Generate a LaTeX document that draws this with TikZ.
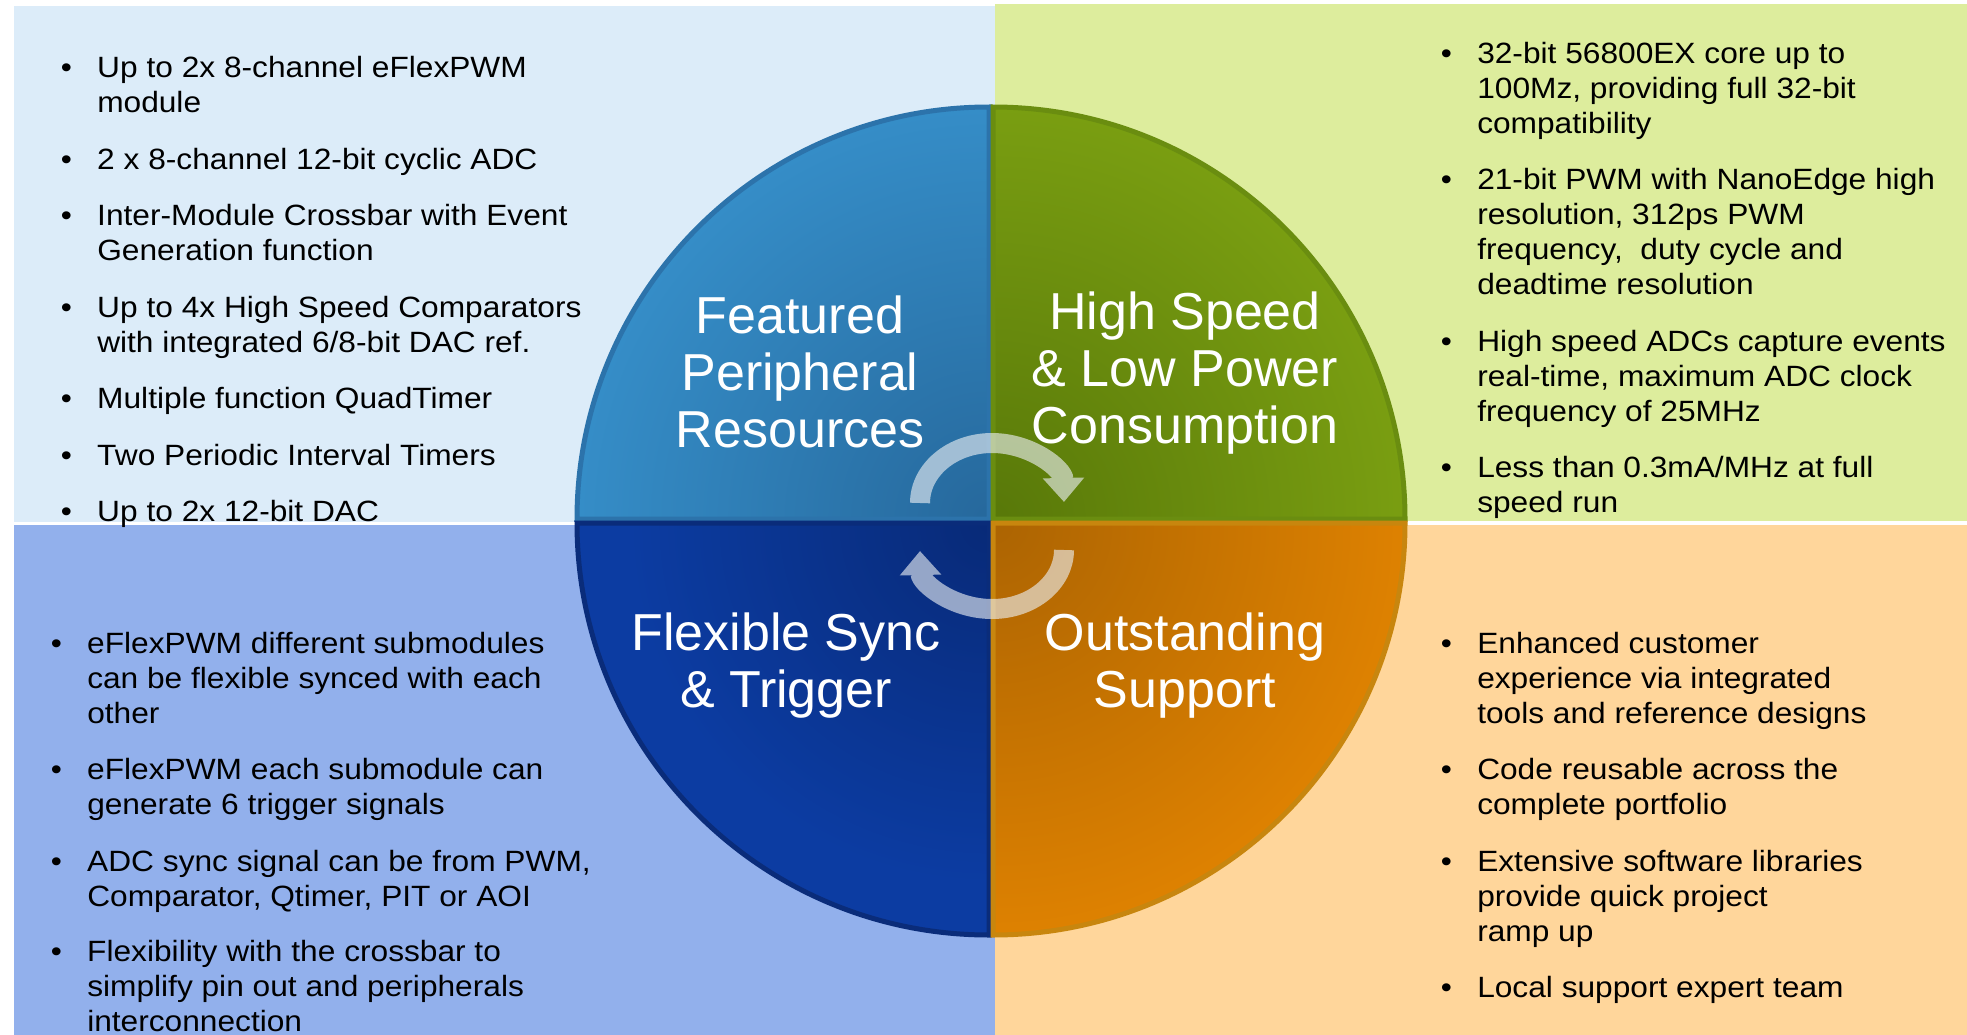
\documentclass[tikz,border=0pt]{standalone}
\usepackage{fontspec}
\setmainfont{Liberation Sans}
\newfontfamily\featfont[FakeStretch=1.08]{Liberation Sans}
\usetikzlibrary{positioning,calc,arrows.meta}
\definecolor{featbg}{RGB}{220,236,249}
\definecolor{speedbg}{RGB}{221,237,157}
\definecolor{syncbg}{RGB}{146,176,236}
\definecolor{supportbg}{RGB}{255,214,155}
\definecolor{feat}{RGB}{60,158,219}
\definecolor{featdark}{RGB}{38,104,156}
\definecolor{featedge}{RGB}{44,115,171}
\definecolor{speed}{RGB}{140,179,22}
\definecolor{speeddark}{RGB}{88,120,9}
\definecolor{speededge}{RGB}{106,141,16}
\definecolor{sync}{RGB}{12,60,162}
\definecolor{syncdark}{RGB}{8,42,120}
\definecolor{syncedge}{RGB}{10,44,122}
\definecolor{support}{RGB}{240,140,0}
\definecolor{supportdark}{RGB}{172,100,2}
\definecolor{supportedge}{RGB}{200,134,14}
\definecolor{cyclegray}{RGB}{236,240,244}
\newcommand{\fpbullet}{\llap{\textbullet\hspace{19pt}}}
\tikzset{
    feature item/.style={
        anchor=base west,
        inner sep=0pt,
        align=left,
        text=black,
        font=\featfont\fontsize{22pt}{26.25pt}\selectfont,
    },
    quadrant title/.style={
        anchor=base,
        inner sep=0pt,
        align=center,
        text=white,
        font=\fontsize{39pt}{42.75pt}\selectfont,
    },
    quadrant edge/.style={line width=3.75pt},
    cycle arrow/.style={
        draw=cyclegray,
        line width=15pt,
        -{Triangle[width=30pt,length=18pt]}
    }
}

\begin{document}
\begin{tikzpicture}[x=0.75pt,y=0.75pt]

\useasboundingbox (0,0) rectangle (1967,-1035);
\fill[white] (0,0) rectangle (1967,-1035);

%Background panels
\fill[featbg] (14,-6) rectangle (995,-522);
\fill[speedbg] (995,-4) rectangle (1967,-521);
\fill[syncbg] (14,-525) rectangle (995,-1035);
\fill[supportbg] (995,-525) rectangle (1967,-1035);

\coordinate (hub) at (991,-521);
\fill[white] (hub) circle (410);

%Featured Peripheral Resources
\begin{scope}
    \clip (989,-519) -- ++(-412,0) arc[start angle=180,end angle=90,radius=412] -- cycle;
    \fill[feat] (570,-100) rectangle (995,-525);
    \shade[inner color=featdark, outer color=feat] (989,-519) circle (600);
\end{scope}
\draw[quadrant edge, draw=featedge] (989,-519) -- ++(-412,0) arc[start angle=180,end angle=90,radius=412] -- cycle;

%High Speed & Low Power
\begin{scope}
    \clip (993,-519) -- ++(0,412) arc[start angle=90,end angle=0,radius=412] -- cycle;
    \fill[speed] (990,-100) rectangle (1410,-525);
    \shade[inner color=speeddark, outer color=speed] (993,-519) circle (640);
\end{scope}
\draw[quadrant edge, draw=speededge] (993,-519) -- ++(0,412) arc[start angle=90,end angle=0,radius=412] -- cycle;

%Flexible Sync & Trigger
\begin{scope}
    \clip (989,-523) -- ++(0,-412) arc[start angle=270,end angle=180,radius=412] -- cycle;
    \fill[sync] (570,-520) rectangle (995,-940);
    \shade[inner color=syncdark, outer color=sync] (989,-523) circle (360);
\end{scope}
\draw[quadrant edge, draw=syncedge] (989,-523) -- ++(0,-412) arc[start angle=270,end angle=180,radius=412] -- cycle;

%Outstanding Support
\begin{scope}
    \clip (993,-523) -- ++(412,0) arc[start angle=0,end angle=-90,radius=412] -- cycle;
    \fill[support] (990,-520) rectangle (1410,-940);
    \shade[inner color=supportdark, outer color=support] (993,-523) circle (560);
\end{scope}
\draw[quadrant edge, draw=supportedge] (993,-523) -- ++(412,0) arc[start angle=0,end angle=-90,radius=412] -- cycle;

%Titles sit on the baseline of their last line
\node[quadrant title] (featTitle) at (800,-447) {Featured\\Peripheral\\Resources};
\node[quadrant title] (speedTitle) at (1185,-443) {High Speed\\\& Low Power\\Consumption};
\node[quadrant title] (syncTitle) at (786,-707) {Flexible Sync\\\& Trigger};
\node[quadrant title] (supportTitle) at (1185,-707) {Outstanding\\Support};

\begin{scope}[transparency group, opacity=0.62]
    \draw[cycle arrow] (920,-503) arc[start angle=180,end angle=1,x radius=72,y radius=60];
\end{scope}
\begin{scope}[transparency group, opacity=0.62]
    \draw[cycle arrow] (1064,-550) arc[start angle=0,end angle=-179,x radius=72,y radius=59];
\end{scope}

\node[feature item] (feat1) at (97,-112.7) {\fpbullet Up to 2x 8-channel eFlexPWM\\module};
\node[feature item] (feat2) at (97,-169.2) {\fpbullet 2 x 8-channel 12-bit cyclic ADC};
\node[feature item] (feat3) at (97,-260.7) {\fpbullet Inter-Module Crossbar with Event\\Generation function};
\node[feature item] (feat4) at (97,-352.2) {\fpbullet Up to 4x High Speed Comparators\\with integrated 6/8-bit DAC ref.};
\node[feature item] (feat5) at (97,-408.7) {\fpbullet Multiple function QuadTimer};
\node[feature item] (feat6) at (97,-465.2) {\fpbullet Two Periodic Interval Timers};
\node[feature item] (feat7) at (97,-521.7) {\fpbullet Up to 2x 12-bit DAC};

\node[feature item] (speed1) at (1477,-133.7) {\fpbullet 32-bit 56800EX core up to\\100Mz, providing full 32-bit\\compatibility};
\node[feature item] (speed2) at (1477,-294.5) {\fpbullet 21-bit PWM with NanoEdge high\\resolution, 312ps PWM\\frequency,~ duty cycle and\\deadtime resolution};
\node[feature item] (speed3) at (1477,-421) {\fpbullet High speed ADCs capture events\\real-time, maximum ADC clock\\frequency of 25MHz};
\node[feature item] (speed4) at (1477,-512) {\fpbullet Less than 0.3mA/MHz at full\\speed run};

\node[feature item] (sync1) at (87,-723.3) {\fpbullet eFlexPWM different submodules\\can be flexible synced with each\\other};
\node[feature item] (sync2) at (87,-814.8) {\fpbullet eFlexPWM each submodule can\\generate 6 trigger signals};
\node[feature item] (sync3) at (87,-906.3) {\fpbullet ADC sync signal can be from PWM,\\Comparator, Qtimer, PIT or AOI};
\node[feature item] (sync4) at (87,-1031) {\fpbullet Flexibility with the crossbar to\\simplify pin out and peripherals\\interconnection};

\node[feature item] (support1) at (1477,-723.3) {\fpbullet Enhanced customer\\experience via integrated\\tools and reference designs};
\node[feature item] (support2) at (1477,-814.8) {\fpbullet Code reusable across the\\complete portfolio};
\node[feature item] (support3) at (1477,-941.3) {\fpbullet Extensive software libraries\\provide quick project\\ramp up};
\node[feature item] (support4) at (1477,-997.8) {\fpbullet Local support expert team};

\end{tikzpicture}
\end{document}
